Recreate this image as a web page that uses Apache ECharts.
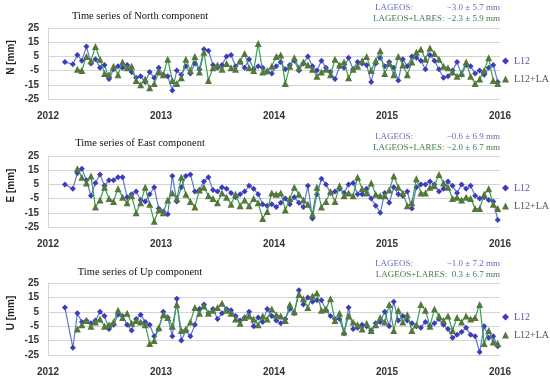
<!DOCTYPE html>
<html><head><meta charset="utf-8">
<script src="https://cdn.jsdelivr.net/npm/echarts@6/dist/echarts.min.js"></script>
<style>html,body{margin:0;padding:0;background:#fff}#c{width:550px;height:380px}</style>
</head><body><div id="c"></div>
<script>
// ---- data ----
const epochs = [2012.15, 2012.22,
 2012.26,2012.30,2012.34,2012.38,2012.42,2012.46,2012.50,2012.54,2012.58,2012.62,2012.66,2012.70,2012.74,2012.78,2012.82,2012.86,2012.90,2012.94,2012.98,
 2013.02,2013.06,2013.10,2013.14,2013.18,2013.22,2013.26,2013.30,2013.34,2013.38,2013.42,2013.46,2013.50,2013.54,2013.58,2013.62,2013.66,2013.70,2013.74,2013.78,2013.82,2013.86,2013.90,2013.94,2013.98,
 2014.02,2014.06,2014.10,2014.14,2014.18,2014.22,2014.26,2014.30,2014.34,2014.38,2014.42,2014.46,2014.50,2014.54,2014.58,2014.62,2014.66,2014.70,2014.74,2014.78,2014.82,2014.86,2014.90,2014.94,2014.98,
 2015.02,2015.06,2015.10,2015.14,2015.18,2015.22,2015.26,2015.30,2015.34,2015.38,2015.42,2015.46,2015.50,2015.54,2015.58,2015.62,2015.66,2015.70,2015.74,2015.78,2015.82,2015.86,2015.90,2015.94,2015.98];

const northL12 = [1,-0.5,
 6,2,12,0,3,-3,-1,-11,-4,-2, -3,-1,-6,-10,-9,-13,-6,-10,-3,-8, -9,-19,-5,-8,-2,-7,0,-4,10,9, -1,-3,-1,5,6,-2,1,-3,3,-4, -2,-3,-6,-7,
 -2,1,-4,-1,2,-5,0,5,-2,-5, 2,-3,-6,-11,-2,-3,4,-4,1,0, -1,-13,0,4,-2,1,-3,-12,3,-2, 5,4,2,-4,6,2,-4,-10,-9,-5, 1,-8,-1,-2,-7,-5,-8,-3,-1,-13];
const northL12LA = [null,null,
 -4,-5,5,2,12,3,-7,-8,-2,-8, 1,-3,-2,-12,-15,-11,-17,-14,-6,-8, 3,-12,-14,-10,3,-5,5,-6,8,-12, -3,-1,-4,0,-3,-4,2,7,-3,-5, 14,-6,-5,-2,
 5,6,-14,-2,4,-3,1,-1,-4,-9, -6,-4,-8,3,-1,1,-10,-4,-2,2, 5,-5,2,9,-7,0,-8,5,-1,-8, 1,8,10,3,11,7,3,-2,-3,-6, -9,-7,1,-9,-14,-11,-5,4,-12,-14];

const eastL12 = [5,2,
 13,16,8,-3,6,12,4,8,8,10, 10,-4,-2,0,-6,-7,-2,3,-12,-14, -16,11,-7,3,11,12,0,1,7,10, 1,0,3,2,-1,-4,-2,0,4,2, -2,-9,-10,-9,
 -11,-8,-5,-9,-4,-8,-11,4,-19,-2, 9,5,-1,0,2,-1,5,6,-2,-2, 2,-5,-10,-15,-1,-8,3,-2,-3,0, -12,3,5,5,7,5,0,2,7,4, -1,5,2,4,-3,-5,-4,-6,-7,-20];
const eastL12LA = [null,null,
 16,10,6,11,-11,-6,3,-5,-7,2, -4,-8,-3,-15,-8,3,-9,-21,-13,-15, -6,-1,-5,10,-2,-7,-11,1,3,-3, -5,-8,-1,-4,-9,-2,-10,-6,-10,-5, -8,-19,-14,-1,
 -2,-1,-13,-5,3,-2,-6,-9,-16,3, -11,-7,0,-7,4,-3,-1,-3,10,2, -1,6,-2,-3,-3,1,11,3,-1,-10, -8,9,-1,-1,3,4,12,6,3,-5, -4,-6,-4,-5,-12,-12,-2,2,-9,-12];

const upL12 = [8,-20,
 4,-2,-1,-3,-1,5,2,-7,-4,3, 2,-4,-8,0,3,-2,-4,-12,-7,5, 1,-12,14,-15,-8,-12,-4,7,10,4, 7,0,4,7,6,2,-1,1,5,-5, 1,-2,7,2,
 -1,-3,0,7,4,20,10,15,12,13, 13,6,2,0,0,-10,8,-7,-6,-4, -5,-8,-3,-2,5,-5,12,-1,2,-1, -3,-5,-6,-2,-5,-3,0,-4,-7,-13, -11,-9,-6,-11,-12,-23,-5,-13,-12,-19];
const upL12LA = [null,null,
 -7,-4,-1,-5,-2,0,-5,-4,-2,6, 1,4,-3,-1,-2,-4,-17,-15,-6,3, 1,-5,10,-8,-7,-2,8,4,9,4, 6,8,11,6,4,0,-3,1,2,0, -4,2,0,7,
 3,2,-1,10,5,17,14,8,16,18, 6,7,14,-1,4,-9,2,-2,-4,-7, -3,-8,-4,1,-2,10,-8,6,-2,3, -8,-4,10,6,-5,7,2,-1,2,-8, 1,-2,2,0,1,10,-17,-8,-16,-17];

const seriesNames = ['L12','L12+LA'];
const panelTitles = ['Time series of North component','Time series of East component','Time series of Up component'];
const axisNames = ['N [mm]','E [mm]','U [mm]'];
const statLabels = ['LAGEOS:','LAGEOS+LARES:'];
const statsLageos = ['\u22123.0 \u00b1 5.7 mm','\u22120.6 \u00b1 6.9 mm','\u22121.0 \u00b1 7.2 mm'];
const statsBoth = ['\u22122.3 \u00b1 5.9 mm','\u22122.0 \u00b1 6.7 mm','\u00a00.3 \u00b1 6.7 mm'];
const yMin = -25, yMax = 25, yStep = 10;
const xMin = 2012, xMax = 2016, xStep = 1;

// ---- layout ----
const panels = [[northL12, northL12LA],[eastL12, eastL12LA],[upL12, upL12LA]];
const tops = [28, 156, 283];
const heights = [71, 71, 72];
const legendTops = [56, 183, 312];
const blueLine = '#5a78d2', blueMark = '#3c3cbc';
const greenLine = '#35a04a', greenMark = '#55783a';

function pts(vals){ const out=[]; vals.forEach((v,i)=>{ if(v!==null) out.push([epochs[i], v]); }); return out; }

const grid = tops.map((t,i)=>({left:48, top:t, width:452, height:heights[i]}));
const xAxis = tops.map((t,i)=>({type:'value', gridIndex:i, min:xMin, max:xMax, interval:xStep,
  axisLine:{show:false}, axisTick:{show:false}, splitLine:{show:false},
  axisLabel:{margin:12, fontFamily:'Liberation Sans', fontWeight:'bold', fontSize:10, color:'#333', formatter:v=>String(v)}}));
const yAxis = tops.map((t,i)=>({type:'value', gridIndex:i, min:yMin, max:yMax, interval:yStep,
  axisLine:{show:true, lineStyle:{color:'#d4d4d4'}}, axisTick:{show:false},
  splitLine:{show:true, lineStyle:{color:'#d4d4d4', width:1}},
  axisLabel:{margin:9, fontFamily:'Liberation Sans', fontWeight:'bold', fontSize:10, color:'#333'}}));

const series = [];
panels.forEach((p,i)=>{
  series.push({name:seriesNames[0], type:'line', xAxisIndex:i, yAxisIndex:i, data:pts(p[0]),
    symbol:'diamond', symbolSize:6, lineStyle:{color:blueLine, width:1.2}, itemStyle:{color:blueMark}, z:2});
  series.push({name:seriesNames[1], type:'line', xAxisIndex:i, yAxisIndex:i, data:pts(p[1]),
    symbol:'triangle', symbolSize:7, lineStyle:{color:greenLine, width:1.2}, itemStyle:{color:greenMark}, z:3});
});

const legend = tops.map((t,i)=>({left:502, top:legendTops[i], orient:'vertical', itemGap:8, itemWidth:7, itemHeight:7,
  padding:0, selectedMode:false, textStyle:{fontFamily:'Liberation Serif', fontSize:10, overflow:'none'},
  data:[{name:seriesNames[0], icon:'diamond', textStyle:{color:'#5a5ab4'}},{name:seriesNames[1], icon:'triangle', textStyle:{color:'#4a5e48'}}]}));

const graphic = [];
const titleY = [16, 143, 272];
const statY = [8, 137, 264];
tops.forEach((t,i)=>{
  graphic.push({type:'text', x:140, y:titleY[i], style:{text:panelTitles[i], font:'10.5px "Liberation Serif"', fill:'#111', textAlign:'center', textVerticalAlign:'middle'}});
  graphic.push({type:'text', x:11, y:t+heights[i]/2-6, rotation:Math.PI/2, style:{text:axisNames[i], font:'bold 10px "Liberation Sans"', fill:'#222', textAlign:'center', textVerticalAlign:'middle'}});
  graphic.push({type:'text', x:375, y:statY[i], style:{text:statLabels[0], font:'9px "Liberation Serif"', fill:'#6a6ab8', textAlign:'left', textVerticalAlign:'middle'}});
  graphic.push({type:'text', x:500, y:statY[i], style:{text:statsLageos[i], font:'9px "Liberation Serif"', fill:'#6a6ab8', textAlign:'right', textVerticalAlign:'middle'}});
  graphic.push({type:'text', x:500, y:statY[i]+11, style:{text:statLabels[1]+' '+statsBoth[i], font:'9px "Liberation Serif"', fill:'#3f7a4c', textAlign:'right', textVerticalAlign:'middle'}});
});

const chart = echarts.init(document.getElementById('c'));
chart.setOption({animation:false, backgroundColor:'#fff', grid, xAxis, yAxis, series, legend, graphic});
</script></body></html>
